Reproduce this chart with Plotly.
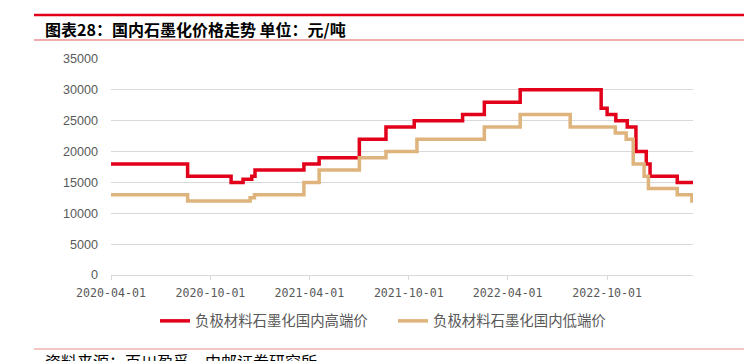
import plotly.graph_objects as go

# ---- data ----
high_dates = ["2020-04-01", "2020-08-20", "2020-11-08", "2020-11-30", "2020-12-16", "2020-12-22",
              "2021-03-22", "2021-04-19", "2021-07-02", "2021-08-20", "2021-10-11", "2022-01-08",
              "2022-02-17", "2022-04-24", "2022-09-20", "2022-10-01", "2022-10-17", "2022-11-07",
              "2022-11-23", "2022-12-12", "2022-12-19", "2023-02-07", "2023-03-08"]
high_vals = [18000, 16000, 15000, 15500, 16000, 17000,
             18000, 19000, 22000, 24000, 25000, 26000,
             28000, 30000, 27000, 26000, 25000, 24000,
             20000, 18000, 16000, 15000, 15000]

low_dates = ["2020-04-01", "2020-08-20", "2020-12-13", "2020-12-21", "2021-03-22", "2021-04-19",
             "2021-07-02", "2021-08-20", "2021-10-16", "2022-02-17", "2022-04-24", "2022-07-25",
             "2022-10-16", "2022-11-05", "2022-11-18", "2022-12-08", "2022-12-16", "2023-02-07",
             "2023-03-06", "2023-03-08"]
low_vals = [13000, 12000, 12500, 13000, 15000, 17000,
            19000, 20000, 22000, 24000, 26000, 24000,
            23000, 22000, 18000, 16000, 14000, 13000,
            12000, 12000]

series_names = ["负极材料石墨化国内高端价", "负极材料石墨化国内低端价"]
x_ticks = ["2020-04-01", "2020-10-01", "2021-04-01", "2021-10-01", "2022-04-01", "2022-10-01"]
y_ticks = [0, 5000, 10000, 15000, 20000, 25000, 30000, 35000]
y_tick_labels = [str(v) for v in y_ticks]

title_text = "图表28：国内石墨化价格走势 单位：元/吨"
source_text = "资料来源：百川盈孚，中邮证券研究所"

RED = "#E2001A"
TAN = "#DEB47C"
CJK = "Noto Sans CJK SC"

fig = go.Figure()
fig.add_trace(go.Scatter(x=high_dates, y=high_vals, name=series_names[0], mode="lines",
                         line=dict(color=RED, width=3.5, shape="hv")))
fig.add_trace(go.Scatter(x=low_dates, y=low_vals, name=series_names[1], mode="lines",
                         line=dict(color=TAN, width=3.5, shape="hv")))

# plot area geometry (pixels)
L, R, T, B = 111, 693, 59, 275
W, H = 744, 361
pw, ph = R - L, B - T


def px(xp):
    return (xp - L) / pw


def py(yp):
    return (B - yp) / ph


fig.update_layout(
    width=W, height=H,
    margin=dict(l=L, r=W - R, t=T, b=H - B, autoexpand=False),
    paper_bgcolor="white", plot_bgcolor="white",
    font=dict(family=CJK, color="#595959", size=12),
    showlegend=True,
    legend=dict(orientation="h", x=px(155), y=py(321), xanchor="left", yanchor="middle",
                font=dict(size=14.4, color="#595959", family=CJK),
                entrywidth=193, entrywidthmode="pixels", itemwidth=30,
                bgcolor="rgba(0,0,0,0)"),
    xaxis=dict(type="date", range=["2020-04-01", "2023-03-08"],
               tickvals=x_ticks, ticktext=x_ticks,
               showgrid=False, showline=True, linecolor="#D9D9D9", linewidth=1,
               ticks="outside", ticklen=4, tickcolor="#D9D9D9", ticklabelstandoff=3,
               tickfont=dict(size=11.6, color="#595959", family="DejaVu Sans Mono"), zeroline=False),
    yaxis=dict(range=[0, 35000], tickvals=y_ticks, ticktext=y_tick_labels,
               showgrid=True, gridcolor="#D9D9D9", gridwidth=1,
               showline=False, zeroline=False, ticks="",
               ticklabelstandoff=12,
               tickfont=dict(size=12.6, color="#595959", family="Liberation Sans")),
    shapes=[
        dict(type="line", xref="paper", yref="paper", x0=px(34), x1=px(744), y0=py(15), y1=py(15),
             line=dict(color=RED, width=2.5)),
        dict(type="line", xref="paper", yref="paper", x0=px(34), x1=px(744), y0=py(40), y1=py(40),
             line=dict(color="#E35B5B", width=1)),
        dict(type="line", xref="paper", yref="paper", x0=px(34), x1=px(744), y0=py(349), y1=py(349),
             line=dict(color="#E58A8A", width=1)),
    ],
    annotations=[
        dict(text="<b>" + title_text + "</b>", xref="paper", yref="paper", x=px(43), y=py(29),
             xanchor="left", yanchor="middle", showarrow=False,
             font=dict(size=16, color="#000000", family=CJK)),
        dict(text=source_text, xref="paper", yref="paper", x=px(43), y=py(361),
             xanchor="left", yanchor="middle", showarrow=False,
             font=dict(size=16, color="#000000", family=CJK)),
    ],
)

fig.write_html("out.html", config={"displayModeBar": False},
               post_script="document.body.style.margin='0';document.body.style.overflow='hidden';")
